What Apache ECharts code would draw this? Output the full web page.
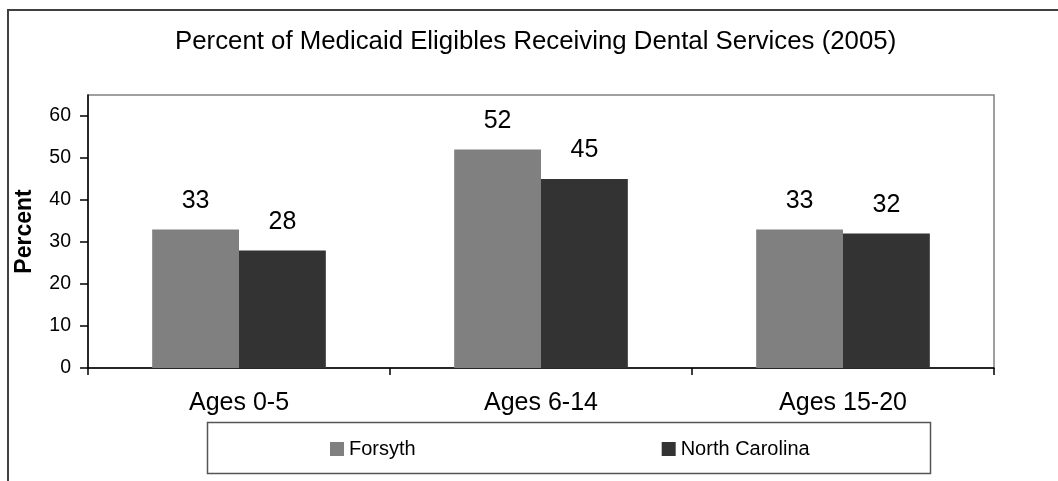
<!DOCTYPE html>
<html>
<head>
<meta charset="utf-8">
<script src="https://cdn.jsdelivr.net/npm/echarts@6/dist/echarts.min.js"></script>
<style>
html,body{margin:0;padding:0;background:#fff;}
#chart{width:1058px;height:481px;}
</style>
</head>
<body>
<div id="chart"></div>
<script>
const titleText = 'Percent of Medicaid Eligibles Receiving Dental Services (2005)';
const categories = ['Ages 0-5', 'Ages 6-14', 'Ages 15-20'];
const forsyth = [33, 52, 33];
const northCarolina = [28, 45, 32];
const yTicks = [0, 10, 20, 30, 40, 50, 60];
const seriesNames = ['Forsyth', 'North Carolina'];

const FONT = 'Liberation Sans, Arial, sans-serif';
const chart = echarts.init(document.getElementById('chart'), null, {renderer: 'canvas'});

const labelStyle = {
  show: true, position: 'top', distance: 16,
  color: '#000', fontFamily: FONT, fontSize: 25
};

chart.setOption({
  backgroundColor: '#fff',
  animation: false,
  title: {
    text: titleText,
    left: 175, top: 29,
    padding: 0,
    textStyle: {fontFamily: FONT, fontSize: 25.8, fontWeight: 'normal', color: '#000'}
  },
  legend: {
    data: seriesNames,
    left: 330, top: 439,
    padding: 0,
    itemWidth: 14, itemHeight: 14, itemGap: 246,
    icon: 'rect',
    textStyle: {fontFamily: FONT, fontSize: 20, color: '#000'}
  },
  grid: {
    left: 88, right: 64, top: 95, bottom: 113,
    show: true, borderColor: '#808080', borderWidth: 1.5,
    backgroundColor: 'transparent', containLabel: false
  },
  xAxis: {
    type: 'category',
    data: categories,
    boundaryGap: true,
    axisLine: {lineStyle: {color: '#000', width: 1.5}},
    axisTick: {show: true, inside: false, length: 7, alignWithLabel: false, lineStyle: {color: '#000', width: 1.5}},
    axisLabel: {margin: 23, fontFamily: FONT, fontSize: 25, color: '#000'},
    splitLine: {show: false}
  },
  yAxis: {
    type: 'value',
    min: 0, max: 65, interval: 10,
    name: 'Percent',
    nameLocation: 'middle',
    nameGap: 52,
    nameTextStyle: {fontFamily: FONT, fontSize: 23, fontWeight: 'bold', color: '#000'},
    axisLine: {show: true, lineStyle: {color: '#000', width: 1.5}},
    axisTick: {show: true, inside: false, length: 8, customValues: yTicks, lineStyle: {color: '#000', width: 1.5}},
    axisLabel: {margin: 17, fontFamily: FONT, fontSize: 19.5, color: '#000', customValues: yTicks},
    splitLine: {show: false}
  },
  series: [
    {
      name: seriesNames[0], type: 'bar', data: forsyth,
      barGap: '0%', barCategoryGap: '42.5%',
      itemStyle: {color: '#808080'},
      label: labelStyle
    },
    {
      name: seriesNames[1], type: 'bar', data: northCarolina,
      barGap: '0%', barCategoryGap: '42.5%',
      itemStyle: {color: '#333333'},
      label: labelStyle
    }
  ],
  graphic: [
    {
      type: 'rect', z: -1, silent: true,
      shape: {x: 8, y: 10, width: 1100, height: 520},
      style: {fill: 'none', stroke: '#404040', lineWidth: 2}
    },
    {
      type: 'rect', z: -1, silent: true,
      shape: {x: 207.5, y: 422.5, width: 723, height: 51},
      style: {fill: 'none', stroke: '#555', lineWidth: 1.5}
    }
  ]
});
</script>
</body>
</html>
